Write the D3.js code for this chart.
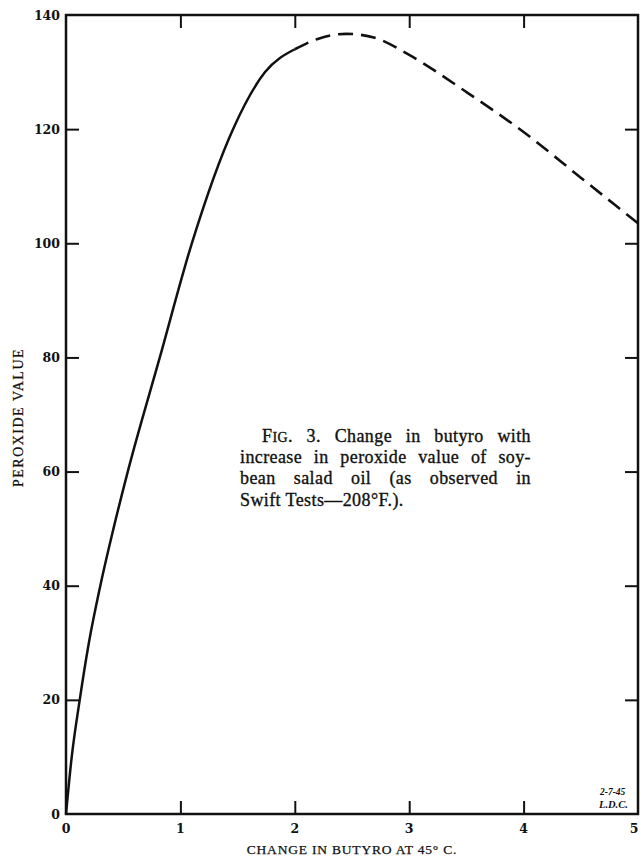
<!DOCTYPE html>
<html>
<head>
<meta charset="utf-8">
<script src="https://cdn.jsdelivr.net/npm/d3@7"></script>
<style>
  body { margin: 0; background: #fff; }
  text { font-family: "Liberation Serif", "DejaVu Serif", serif; fill: #111; }
</style>
</head>
<body>
<script>
// curve: solid part, then dashed part
const solidPts = [[0,0],[0.05,10],[0.12,20],[0.2,30],[0.3,40],[0.415,50],[0.54,60],[0.82,80],[1.1,100],[1.46,120],[1.74,130],[2.0,134]];
const dashedPts = [[2.0,134],[2.2,135.8],[2.45,136.7],[2.7,136],[3.0,133],[3.5,126.5],[4.0,119.5],[4.5,111.5],[5.0,103.5]];
const xTicks = [0,1,2,3,4,5];
const yTicks = [0,20,40,60,80,100,120,140];
const captionLines = [
  "Change in butyro with",
  "increase in peroxide value of soy-",
  "bean salad oil (as observed in",
  "Swift Tests\u2014208\u00B0F.)."
];

let width = 641, height = 862;
let plotLeft = 66, plotRight = 638, plotTop = 15, plotBottom = 814;

let x = d3.scaleLinear([0,5], [plotLeft, plotRight]),
    y = d3.scaleLinear([0,140], [plotBottom, plotTop]);

let svg = d3.select('body').append('svg').attr('width', width).attr('height', height);

// frame
svg.append('rect')
    .attr('x', plotLeft).attr('y', plotTop)
    .attr('width', plotRight-plotLeft).attr('height', plotBottom-plotTop)
    .style('fill','none').style('stroke','#111').style('stroke-width','2.5px');

// inward ticks on all sides, labels on left and bottom
let tickLen = 13;
let fmt = d3.format('d');
let ax = [
  svg.append('g').attr('transform', `translate(${plotLeft},0)`).call(d3.axisRight(y).tickValues(yTicks.slice(1,-1)).tickSize(tickLen).tickFormat('')),
  svg.append('g').attr('transform', `translate(${plotRight},0)`).call(d3.axisLeft(y).tickValues(yTicks.slice(1,-1)).tickSize(tickLen).tickFormat('')),
  svg.append('g').attr('transform', `translate(0,${plotBottom})`).call(d3.axisTop(x).tickValues(xTicks.slice(1,-1)).tickSize(tickLen).tickFormat('')),
  svg.append('g').attr('transform', `translate(0,${plotTop})`).call(d3.axisBottom(x).tickValues(xTicks.slice(1,-1)).tickSize(tickLen).tickFormat(''))
];
ax.forEach(g => {
  g.select('.domain').remove();
  g.selectAll('line').style('stroke','#111').style('stroke-width','2px');
});

// tick labels
svg.append('g').selectAll('text')
    .data(yTicks).join('text')
    .attr('x', plotLeft-6).attr('y', d=>y(d)+4.5)
    .attr('text-anchor','end')
    .style('font-family','"DejaVu Serif", serif')
    .style('font-size','12.5px').style('font-weight','bold')
    .text(fmt);
svg.append('g').selectAll('text')
    .data(xTicks).join('text')
    .attr('x', d=>x(d)-(d===5?4:0)).attr('y', plotBottom+19)
    .attr('text-anchor','middle')
    .style('font-family','"DejaVu Serif", serif')
    .style('font-size','12.5px').style('font-weight','bold')
    .text(fmt);

// axis titles
svg.append('text')
    .attr('transform', `translate(23,${(plotTop+plotBottom)/2+3}) rotate(-90)`)
    .attr('text-anchor','middle')
    .style('font-size','14px').style('letter-spacing','1.5px')
    .style('stroke','#111').style('stroke-width','0.25px')
    .text('PEROXIDE VALUE');
svg.append('text')
    .attr('x', 352).attr('y', 854)
    .attr('text-anchor','middle')
    .style('font-size','13.5px').style('letter-spacing','0.8px')
    .style('stroke','#111').style('stroke-width','0.25px')
    .text('CHANGE IN BUTYRO AT 45\u00B0 C.');

// curve
let line = d3.line().x(d=>x(d[0])).y(d=>y(d[1])).curve(d3.curveMonotoneX);
svg.append('path').datum(solidPts).attr('d', line)
    .style('fill','none').style('stroke','#111').style('stroke-width','2.5px');
svg.append('path').datum(dashedPts).attr('d', line)
    .style('fill','none').style('stroke','#111').style('stroke-width','2.6px')
    .style('stroke-dasharray','15 8');

// caption, justified by widening the word gaps
let capRight = 531;
let cap = svg.append('g').style('font-size','18px').style('letter-spacing','0.4px')
    .style('stroke','#111').style('stroke-width','0.35px');
function justify(t, x0){
  let spaces = (t.text().match(/ /g) || []).length;
  let w = t.node().getComputedTextLength();
  if(spaces) t.style('word-spacing', ((capRight-x0-w)/spaces)+'px');
}
let l1 = cap.append('text').attr('x', 262).attr('y', 442);
l1.append('tspan').text('F');
l1.append('tspan').style('font-size','14px').text('IG');
l1.append('tspan').text('. 3. ' + captionLines[0]);
justify(l1, 262);
cap.selectAll('text.l').data(captionLines.slice(1)).join('text')
    .attr('class','l')
    .attr('x', 240).attr('y', (d,i)=>463+i*21.3)
    .text(d=>d)
    .each(function(d,i){ if(i<2) justify(d3.select(this), 240); });

// handwritten note
let note = svg.append('g').style('font-family','"DejaVu Sans", sans-serif').style('font-style','italic').style('font-weight','bold');
note.append('text').attr('x', 600).attr('y', 795).style('font-size','9.5px').text('2-7-45');
note.append('text').attr('x', 599).attr('y', 808).style('font-size','10.5px').text('L.D.C.');
</script>
</body>
</html>
